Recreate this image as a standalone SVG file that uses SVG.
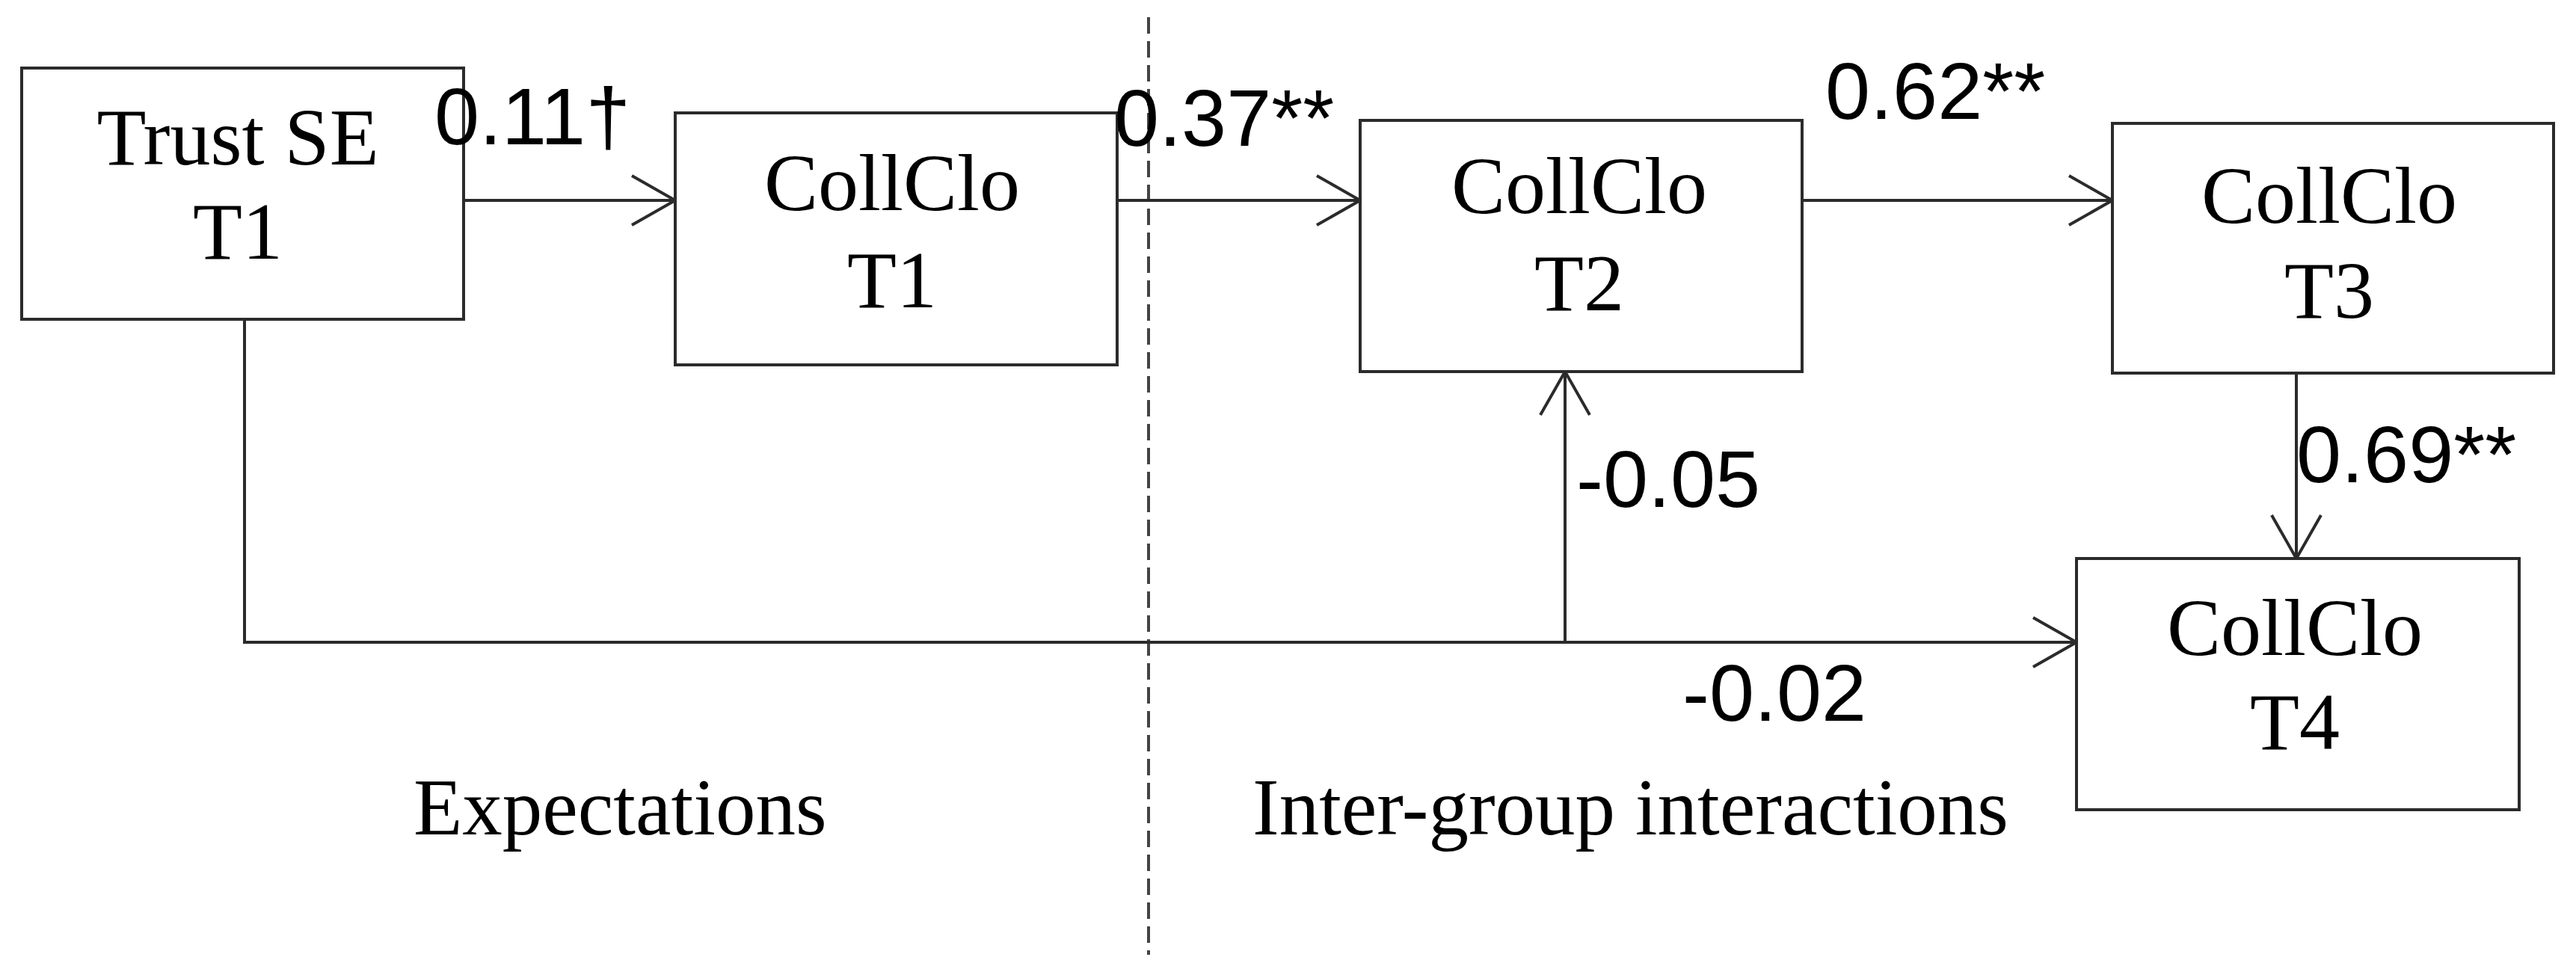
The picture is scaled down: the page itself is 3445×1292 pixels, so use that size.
<svg xmlns="http://www.w3.org/2000/svg" width="3445" height="1292" viewBox="0 0 3445 1292">
<style>
.box{fill:#fff;stroke:#2b2b2b;stroke-width:4}
.node{font-family:"Liberation Serif","Times New Roman",serif;font-size:108px;fill:#000;text-anchor:middle}
.lab{font-family:"Liberation Sans",Arial,sans-serif;font-size:108px;fill:#000}
.sec{font-family:"Liberation Serif","Times New Roman",serif;font-size:107px;fill:#000}
.con{fill:none;stroke:#2b2b2b;stroke-width:4}
.dash{fill:none;stroke:#444;stroke-width:4;stroke-dasharray:22 10}
</style>
<defs>
<marker id="ah" markerUnits="userSpaceOnUse" markerWidth="80" markerHeight="80" viewBox="-70 -40 80 80" refX="0" refY="0" orient="auto">
<path d="M-58,-33 L0,0 L-58,33" fill="none" stroke="#2b2b2b" stroke-width="4"/>
</marker>
</defs>
<rect width="3445" height="1292" fill="#fff"/>
<line class="dash" x1="1536" y1="23" x2="1536" y2="1277"/>
<g id="connectors">
<line class="con" x1="620" y1="268" x2="903" y2="268" marker-end="url(#ah)"/>
<line class="con" x1="1494" y1="268" x2="1819" y2="268" marker-end="url(#ah)"/>
<line class="con" x1="2410" y1="268" x2="2825" y2="268" marker-end="url(#ah)"/>
<line class="con" x1="3071" y1="500" x2="3071" y2="747" marker-end="url(#ah)"/>
<path class="con" d="M327,427 V859 H2777" marker-end="url(#ah)"/>
<line class="con" x1="2093" y1="859" x2="2093" y2="497" marker-end="url(#ah)"/>
</g>
<g id="node-trust-se-t1">
<rect class="box" x="29" y="91" width="591" height="336"/>
<text class="node" x="318" y="220">Trust SE</text>
<text class="node" x="318" y="346">T1</text>
</g>
<g id="node-collclo-t1">
<rect class="box" x="903" y="151" width="591" height="337"/>
<text class="node" x="1193" y="281">CollClo</text>
<text class="node" x="1193" y="411">T1</text>
</g>
<g id="node-collclo-t2">
<rect class="box" x="1819" y="161" width="591" height="336"/>
<text class="node" x="2112" y="285">CollClo</text>
<text class="node" x="2112" y="415">T2</text>
</g>
<g id="node-collclo-t3">
<rect class="box" x="2825" y="165" width="590" height="334"/>
<text class="node" x="3115" y="298">CollClo</text>
<text class="node" x="3115" y="425">T3</text>
</g>
<g id="node-collclo-t4">
<rect class="box" x="2777" y="747" width="592" height="336"/>
<text class="node" x="3069" y="876">CollClo</text>
<text class="node" x="3069" y="1002">T4</text>
</g>
<g id="labels">
<text class="lab" x="581" y="193">0.11†</text>
<text class="lab" x="1490" y="195">0.37**</text>
<text class="lab" x="2441" y="159">0.62**</text>
<text class="lab" x="3071" y="645">0.69**</text>
<text class="lab" x="2108" y="678">-0.05</text>
<text class="lab" x="2250" y="964">-0.02</text>
<text class="sec" x="553" y="1116">Expectations</text>
<text class="sec" x="1675" y="1116">Inter-group interactions</text>
</g>
</svg>
